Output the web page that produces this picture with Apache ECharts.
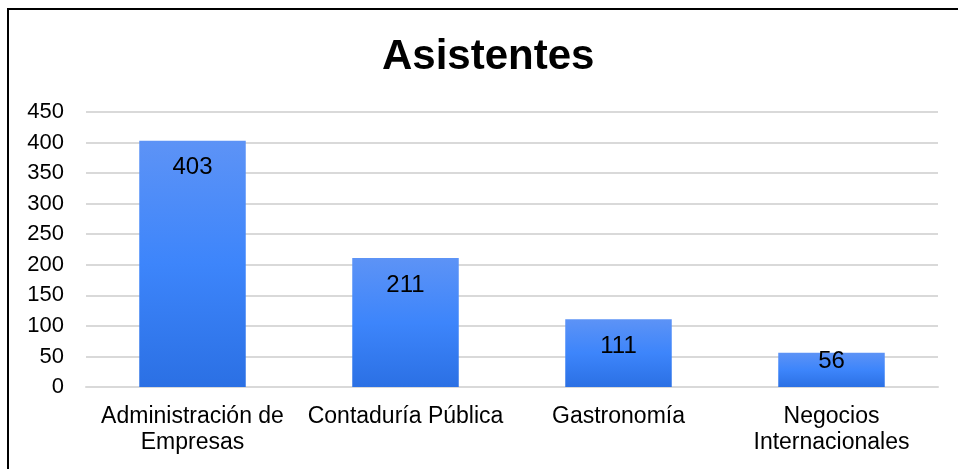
<!DOCTYPE html>
<html>
<head>
<meta charset="utf-8">
<script src="https://cdn.jsdelivr.net/npm/echarts@6/dist/echarts.min.js"></script>
<style>
  html, body { margin: 0; padding: 0; background: #fff; }
  #chart { width: 958px; height: 469px; }
</style>
</head>
<body>
<div id="chart"></div>
<script>
  // datos
  var categorias = ['Administración de\nEmpresas', 'Contaduría Pública', 'Gastronomía', 'Negocios\nInternacionales'];
  var asistentes = [403, 211, 111, 56];
  var titulo = 'Asistentes';

  var chart = echarts.init(document.getElementById('chart'));
  var fuente = '"Liberation Sans", Arial, sans-serif';

  // la barra corta lleva la etiqueta pegada al borde superior
  var datos = asistentes.map(function (v) {
    return v < 80 ? { value: v, label: { distance: -3 } } : v;
  });

  chart.setOption({
    backgroundColor: '#fff',
    animation: false,
    title: {
      text: titulo,
      left: 377,
      top: 31,
      textStyle: { color: '#000', fontSize: 42, fontWeight: 'bold', fontFamily: fuente }
    },
    // marco del gráfico (solo se ven arriba e izquierda)
    graphic: [{
      type: 'rect',
      shape: { x: 8, y: 9, width: 1000, height: 600 },
      style: { fill: 'none', stroke: '#000', lineWidth: 2 },
      silent: true
    }],
    grid: { left: 86, right: 20, top: 112, bottom: 82 },
    xAxis: {
      type: 'category',
      data: categorias,
      axisLine: { show: true, lineStyle: { color: '#d9d9d9', width: 2 } },
      axisTick: { show: false },
      axisLabel: {
        color: '#000', fontSize: 23, fontFamily: fuente,
        margin: 17, lineHeight: 26, interval: 0
      }
    },
    yAxis: {
      type: 'value',
      min: 0, max: 450, interval: 50,
      axisLine: { show: false },
      axisTick: { show: false },
      splitLine: { lineStyle: { color: '#d9d9d9', width: 2 } },
      axisLabel: { color: '#000', fontSize: 22, fontFamily: fuente, margin: 22 }
    },
    series: [{
      type: 'bar',
      data: datos,
      barWidth: '50%',
      itemStyle: {
        color: new echarts.graphic.LinearGradient(0, 0, 0, 1, [
          { offset: 0, color: '#5d93f6' },
          { offset: 0.5, color: '#3d85fb' },
          { offset: 1, color: '#2b70e4' }
        ])
      },
      label: {
        show: true,
        position: 'insideTop',
        distance: 15,
        color: '#000',
        fontSize: 24,
        fontFamily: fuente
      }
    }]
  });
</script>
</body>
</html>
